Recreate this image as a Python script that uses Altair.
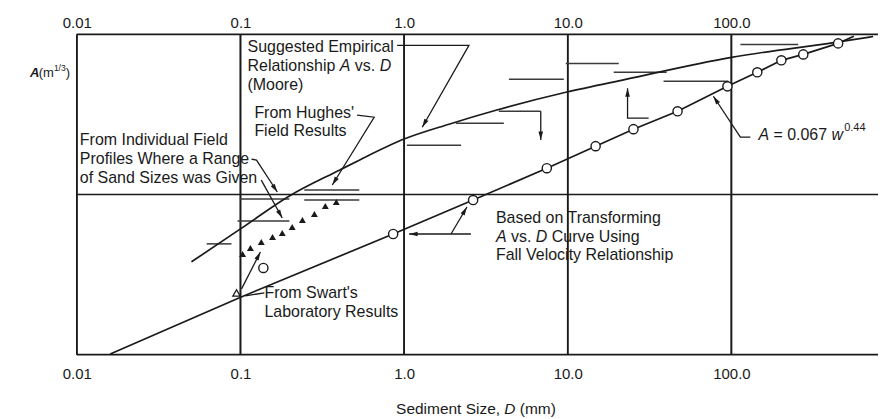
import math
import altair as alt
import pandas as pd

FONT = "Liberation Sans"
INK = "#1a1a1a"

# ---------------- axes ----------------
x_ticks = [0.01, 0.1, 1, 10, 100]
x_tick_labels = ["0.01", "0.1", "1.0", "10.0", "100.0"]
y_ticks = [0.01, 0.1, 1.0]
y_tick_labels = ["0.01", "0.10", "1.0"]
X_DOMAIN = [0.01, 787]
Y_DOMAIN = [0.01, 1.0]
W, H = 803, 321

# ---------------- data ----------------
# Suggested empirical relationship A vs D (Moore)
moore_D = [0.0502, 0.1, 0.199, 0.402, 0.532, 1.0, 1.88, 3.64, 9.73, 22.6, 100, 431, 735]
moore_A = [0.038, 0.061, 0.098, 0.142, 0.164, 0.222, 0.275, 0.336, 0.435, 0.524, 0.719, 0.892, 0.97]

# Curve from fall velocity relationship (open circles)
circle_D = [0.857, 2.64, 7.45, 14.8, 25.2, 46.9, 94.6, 144, 202, 275, 449]
circle_A = [0.0567, 0.0924, 0.146, 0.2005, 0.256, 0.331, 0.474, 0.580, 0.689, 0.750, 0.879]
fall_D = [0.016, 0.0986] + circle_D + [560]
fall_A = [0.0101, 0.0227] + circle_A + [0.975]

extra_circle_D = [0.138]
extra_circle_A = [0.0348]

# Hughes' field results (filled triangles)
hughes_D = [0.103, 0.115, 0.134, 0.157, 0.180, 0.207, 0.239, 0.283, 0.330, 0.385]
hughes_A = [0.0426, 0.0464, 0.0506, 0.0543, 0.0575, 0.0627, 0.0694, 0.0756, 0.0848, 0.0898]

# Swart's laboratory results (open triangle)
swart_D = [0.0946]
swart_A = [0.0243]

# Individual field profiles: range of sand sizes
range_D1 = [0.0621, 0.0959, 0.099, 0.2455, 0.2455, 1.04, 2.07, 3.79, 4.37, 9.73, 19.1, 38.5, 113.5]
range_D2 = [0.0881, 0.199, 0.199, 0.532, 0.532, 2.23, 4.07, 6.84, 9.46, 20.5, 40.2, 95.9, 256]
range_A = [0.0492, 0.0684, 0.0938, 0.1067, 0.0924, 0.2034, 0.279, 0.331, 0.524, 0.659, 0.580, 0.509, 0.866]

# Leader lines (D, A) ; last point carries an arrowhead when head=True
leaders = [
    ("moore", True, [(0.906, 0.854), (2.49, 0.854), (1.29, 0.263)]),
    ("hughes", True, [(0.516, 0.313), (0.656, 0.304), (0.364, 0.1147)]),
    ("field1", True, [(0.1167, 0.1665), (0.1253, 0.164), (0.168, 0.1037)]),
    ("field2", True, [(0.134, 0.123), (0.180, 0.0714)]),
    ("swart1", False, [(0.140, 0.0243), (0.1072, 0.0233)]),
    ("swart2", True, [(0.1015, 0.02577), (0.1324, 0.0438)]),
    ("based1", True, [(2.56, 0.0567), (1.073, 0.0567)]),
    ("based2", True, [(1.935, 0.0567), (2.42, 0.0836)]),
    ("formula", True, [(130.6, 0.228), (113.5, 0.228), (77.6, 0.411)]),
    ("up", True, [(31.2, 0.300), (23.2, 0.300), (23.2, 0.461)]),
    ("down", True, [(6.84, 0.331), (6.84, 0.219)]),
]

# Annotation text segments: (D, A, text, dx, italic, size, dy)
texts = [
    (0.1104, 0.830, "Suggested Empirical", 0, False, 16, 0),
    (0.1104, 0.636, "Relationship", 0, False, 16, 0),
    (0.1104, 0.636, "A", 92.5, True, 16, 0),
    (0.1104, 0.636, "vs.", 107.6, False, 16, 0),
    (0.1104, 0.636, "D", 132.5, True, 16, 0),
    (0.1104, 0.481, "(Moore)", 0, False, 16, 0),
    (0.1216, 0.322, "From Hughes'", 0, False, 16, 0),
    (0.1216, 0.249, "Field Results", 0, False, 16, 0),
    (0.01043, 0.219, "From Individual Field", 0, False, 16, 0),
    (0.01043, 0.1665, "Profiles Where a Range", 0, False, 16, 0),
    (0.01043, 0.1267, "of Sand Sizes was Given", 0, False, 16, 0),
    (3.64, 0.0714, "Based on Transforming", 0, False, 16, 0),
    (3.64, 0.0543, "A", 0, True, 16, 0),
    (3.64, 0.0543, "vs.", 15.1, False, 16, 0),
    (3.64, 0.0543, "D", 40, True, 16, 0),
    (3.64, 0.0543, "Curve Using", 56, False, 16, 0),
    (3.64, 0.042, "Fall Velocity Relationship", 0, False, 16, 0),
    (0.140, 0.0243, "From Swart's", 0, False, 16, 0),
    (0.140, 0.01853, "Laboratory Results", 0, False, 16, 0),
    (146.2, 0.235, "A", 0, True, 16, 0),
    (146.2, 0.235, "= 0.067", 15.1, False, 16, 0),
    (146.2, 0.235, "w", 73.3, True, 16, 0),
    (146.2, 0.235, "0.44", 86, False, 11, -7),
]

# ---------------- helpers ----------------
xs = alt.Scale(type="log", domain=X_DOMAIN)
ys = alt.Scale(type="log", domain=Y_DOMAIN)
PX_X = W / (math.log10(X_DOMAIN[1]) - math.log10(X_DOMAIN[0]))
PX_Y = H / (math.log10(Y_DOMAIN[1]) - math.log10(Y_DOMAIN[0]))


def label_expr(values, labels):
    expr = "''"
    for v, l in reversed(list(zip(values, labels))):
        expr = f"abs(log(datum.value) - log({v})) < 0.01 ? '{l}' : " + expr
    return expr


X = lambda **kw: alt.X("D:Q", scale=xs, **kw)
Y = lambda **kw: alt.Y("A:Q", scale=ys, **kw)

axis_common = dict(ticks=False, domain=False, grid=False, labelFont=FONT,
                   labelFontSize=15, labelColor=INK, labelOverlap=False, title=None)

# frame / gridlines with axes
gx = pd.DataFrame({"D": x_ticks})
gy = pd.DataFrame({"A": y_ticks})
vrules = alt.Chart(gx).mark_rule(color=INK, strokeWidth=1.6).encode(
    x=X(axis=alt.Axis(orient="bottom", values=x_ticks, labelExpr=label_expr(x_ticks, x_tick_labels),
                      labelPadding=12, labelFlush=False, **axis_common)))
vrules_top = alt.Chart(gx).mark_rule(color=INK, strokeWidth=1.6).encode(
    x=X(axis=alt.Axis(orient="top", values=x_ticks, labelExpr=label_expr(x_ticks, x_tick_labels),
                      labelPadding=4, labelFlush=False, **axis_common)))
hrules = alt.Chart(gy).mark_rule(color=INK, strokeWidth=1.6).encode(
    y=Y(axis=alt.Axis(orient="left", values=y_ticks, labelExpr=label_expr(y_ticks, y_tick_labels),
                      labelPadding=10, **axis_common)))

moore = alt.Chart(pd.DataFrame({"D": moore_D, "A": moore_A})).mark_line(
    color=INK, strokeWidth=1.7, interpolate="monotone").encode(x=X(axis=None), y=Y(axis=None))
fall = alt.Chart(pd.DataFrame({"D": fall_D, "A": fall_A})).mark_line(
    color=INK, strokeWidth=1.7).encode(x=X(axis=None), y=Y(axis=None))

rng = alt.Chart(pd.DataFrame({"D": range_D1, "D2": range_D2, "A": range_A})).mark_rule(
    color="#3a3a3a", strokeWidth=1.5).encode(x=X(axis=None), x2="D2:Q", y=Y(axis=None))

# leader lines
rows, heads = [], []
for name, head, pts in leaders:
    for i, (d, a) in enumerate(pts):
        rows.append({"id": name, "o": i, "D": d, "A": a})
    if head:
        (d1, a1), (d2, a2) = pts[-2], pts[-1]
        dx = PX_X * (math.log10(d2) - math.log10(d1))
        dy = -PX_Y * (math.log10(a2) - math.log10(a1))
        ang = math.degrees(math.atan2(dx, -dy)) % 360
        heads.append({"D": d2, "A": a2, "ang": ang})
lead = alt.Chart(pd.DataFrame(rows)).mark_line(color=INK, strokeWidth=1.3).encode(
    x=X(axis=None), y=Y(axis=None), detail="id:N", order="o:Q")
arrowheads = alt.Chart(pd.DataFrame(heads)).mark_point(
    shape="M0,0L-0.6,2.2L0.6,2.2Z", filled=True, color=INK, size=60, opacity=1).encode(
    x=X(axis=None), y=Y(axis=None), angle=alt.Angle("ang:Q", scale=None))

circles = alt.Chart(pd.DataFrame({"D": circle_D + extra_circle_D, "A": circle_A + extra_circle_A})).mark_point(
    shape="circle", filled=True, fill="white", stroke=INK, strokeWidth=1.4, size=85, opacity=1).encode(
    x=X(axis=None), y=Y(axis=None))
tri = alt.Chart(pd.DataFrame({"D": hughes_D, "A": hughes_A})).mark_point(
    shape="triangle-up", filled=True, color=INK, size=48, opacity=1).encode(x=X(axis=None), y=Y(axis=None))
swart = alt.Chart(pd.DataFrame({"D": swart_D, "A": swart_A})).mark_point(
    shape="triangle-up", filled=False, color=INK, strokeWidth=1.3, size=55, opacity=1).encode(
    x=X(axis=None), y=Y(axis=None))

layers = [vrules, vrules_top, hrules, rng, moore, fall, lead, arrowheads, circles, tri, swart]

for d, a, t, dx, it, sz, dy in texts:
    layers.append(alt.Chart(pd.DataFrame({"D": [d], "A": [a], "t": [t]})).mark_text(
        align="left", baseline="middle", dx=dx, dy=dy, font=FONT, fontSize=sz,
        fontStyle="italic" if it else "normal", color=INK).encode(
        x=X(axis=None), y=Y(axis=None), text="t:N"))

# axis titles (pixel positions relative to plot area)
def ptext(x, y, t, size, italic=False, bold=False):
    return alt.Chart(pd.DataFrame({"t": [t]})).mark_text(
        align="left", baseline="middle", font=FONT, fontSize=size,
        fontStyle="italic" if italic else "normal", fontWeight="bold" if bold else "normal",
        color=INK).encode(x=alt.value(x), y=alt.value(y), text="t:N")

layers += [
    ptext(-47, 39, "A", 13, italic=True, bold=True),
    ptext(-38.3, 39, "(m", 13),
    ptext(-23, 34, "1/3", 8.5),
    ptext(-11, 39, ")", 13),
    ptext(320, 375, "Sediment Size,", 15.5),
    ptext(428.5, 375, "D", 15.5, italic=True),
    ptext(444, 375, "(mm)", 15.5),
]

chart = alt.layer(*layers).properties(
    width=W, height=H,
    autosize=alt.AutoSizeParams(type="none"),
    padding={"left": 69, "top": 26, "right": 0, "bottom": 62},
    background="white",
).configure_view(strokeWidth=0)

chart.save("out.html", embed_options={"renderer": "svg", "actions": False})
